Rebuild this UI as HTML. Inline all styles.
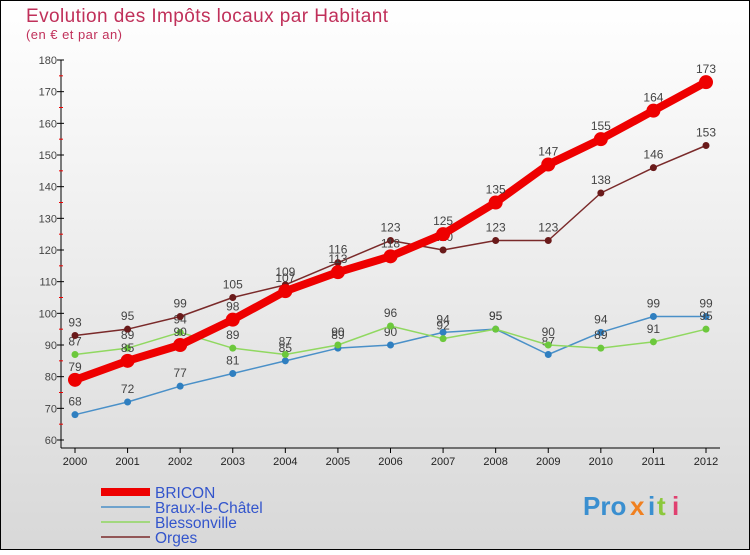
<!DOCTYPE html>
<html><head><meta charset="utf-8"><style>
body{margin:0;width:750px;height:550px;overflow:hidden;font-family:"Liberation Sans",sans-serif}
</style></head><body>
<svg id="c" width="750" height="550" xmlns="http://www.w3.org/2000/svg">
<defs><linearGradient id="bg" x1="0" y1="0" x2="0" y2="1"><stop offset="0" stop-color="#ffffff"/><stop offset="1" stop-color="#d8d8d8"/></linearGradient></defs>
<rect x="0.5" y="0.5" width="749" height="549" fill="url(#bg)" stroke="#000"/>
<text x="26" y="22" font-size="19" fill="#c0305a" textLength="362">Evolution des Impôts locaux par Habitant</text>
<text x="26" y="39" font-size="13" fill="#c0305a" textLength="96">(en € et par an)</text>
<g id="axes"></g><g id="series"></g><g id="legend"></g>
<g font-size="26" font-weight="bold">
<text x="583" y="515" fill="#3a8fd0">Pro</text><text x="630" y="515" fill="#f08020">x</text><text x="648" y="515" fill="#3a8fd0">i</text><text x="657" y="515" fill="#8cc83c">t</text><text x="672" y="515" fill="#e04070">i</text>
</g>
</svg>
<script>
const years=[2000,2001,2002,2003,2004,2005,2006,2007,2008,2009,2010,2011,2012];
const yTicks=[60,70,80,90,100,110,120,130,140,150,160,170,180];
const bricon=[79,85,90,98,107,113,118,125,135,147,155,164,173];
const braux=[68,72,77,81,85,89,90,94,95,87,94,99,99];
const bless=[87,89,94,89,87,90,96,92,95,90,89,91,95];
const orges=[93,95,99,105,109,116,123,120,123,123,138,146,153];
const names=["BRICON","Braux-le-Châtel","Blessonville","Orges"];
const NS="http://www.w3.org/2000/svg";
const xs=i=>75+i*(706-75)/12;
const ys=v=>440-(v-60)*380/120;
function mk(t,a,p){const e=document.createElementNS(NS,t);for(const k in a)e.setAttribute(k,a[k]);p.appendChild(e);return e;}
const ax=document.getElementById('axes');
mk('line',{x1:61,y1:60,x2:61,y2:448,stroke:'#000'},ax);
mk('line',{x1:61,y1:448,x2:720,y2:448,stroke:'#000'},ax);
yTicks.forEach((v,i)=>{
 mk('line',{x1:57,y1:ys(v),x2:64,y2:ys(v),stroke:'#000'},ax);
 if(i<yTicks.length-1) mk('line',{x1:59,y1:ys(v+5),x2:63,y2:ys(v+5),stroke:'#e00'},ax);
 const t=mk('text',{x:57,y:ys(v)+4,'font-size':11,fill:'#444','text-anchor':'end'},ax);t.textContent=v;
 
 
});
years.forEach((y,i)=>{
 mk('line',{x1:xs(i),y1:448,x2:xs(i),y2:453,stroke:'#000'},ax);
 const t=mk('text',{x:xs(i),y:465,'font-size':11,fill:'#222','text-anchor':'middle'},ax);t.textContent=y;
 
 
});
const sg=document.getElementById('series');
const defs=[[braux,'#4a90c8','#2f7fc0',1.5,3.5,'braux'],[bless,'#90d860','#6cc83c',1.5,3.5,'blessonville'],[orges,'#7a2a2a','#6a1a1a',1.5,3.5,'orges'],[bricon,'#ee0000','#ee0000',8,7,'bricon']];
defs.forEach(([d,lc,pc,w,r,n])=>{
 const g=mk('g',{},sg);
 
 
 mk('polyline',{points:d.map((v,i)=>xs(i)+','+ys(v)).join(' '),fill:'none',stroke:lc,'stroke-width':w,'stroke-linejoin':'round'},g);
 d.forEach((v,i)=>{
  const c=mk('circle',{cx:xs(i),cy:ys(v),r:r,fill:pc},g);
  
  
  const t=mk('text',{x:xs(i),y:ys(v)-9,'font-size':12,fill:'#444','text-anchor':'middle'},g);t.textContent=v;
  
  
 });
});
const lg=document.getElementById('legend');
const lcols=['#ee0000','#4a90c8','#90d860','#7a2a2a'],lw=[8,1.5,1.5,1.5];
names.forEach((n,i)=>{
 const y=492+i*15;
 const g=mk('g',{},lg);
 
 
 mk('line',{x1:101,y1:y,x2:150,y2:y,stroke:lcols[i],'stroke-width':lw[i]},g);
 const t=mk('text',{x:155,y:y+6,'font-size':15.5,fill:'#3355cc'},g);t.textContent=n;
});
</script>
</body></html>
